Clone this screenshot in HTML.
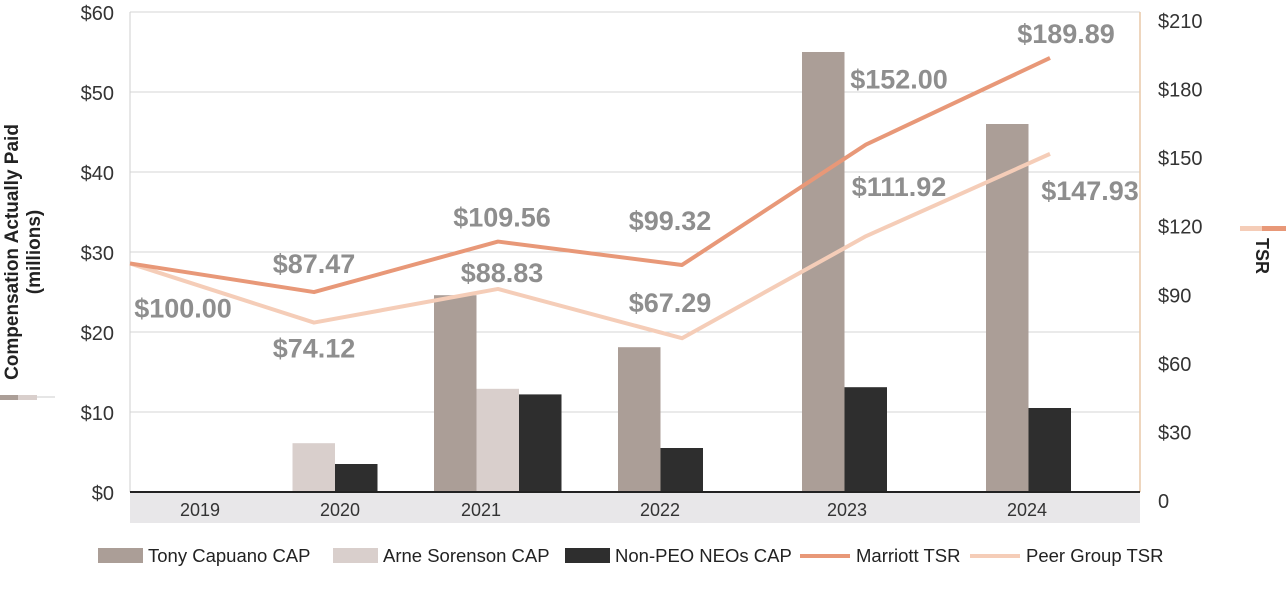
<!DOCTYPE html>
<html><head><meta charset="utf-8"><style>
body{margin:0;background:#fff;font-family:"Liberation Sans",sans-serif;}
svg{display:block}
</style></head><body>
<svg id="chart" width="1286" height="602" xmlns="http://www.w3.org/2000/svg"></svg>
<script>
const categories=["2019","2020","2021","2022","2023","2024"];
const tonyCAP=[0,0,24.6,18.1,55,46];
const arneCAP=[0,6.1,12.9,null,null,null];
const neoCAP=[0,3.5,12.2,5.5,13.1,10.5];
const marriottTSR=[100.00,87.47,109.56,99.32,152.00,189.89];
const peerTSR=[100.00,74.12,88.83,67.29,111.92,147.93];
const marriottLabels=["$100.00","$87.47","$109.56","$99.32","$152.00","$189.89"];
const peerLabels=["","$74.12","$88.83","$67.29","$111.92","$147.93"];
const leftTicks=[0,10,20,30,40,50,60];
const rightTicks=[0,30,60,90,120,150,180,210];

const NS="http://www.w3.org/2000/svg";
const svg=document.getElementById('chart');
const X0=130,X1=1140,Y0=492,Y1=12;
const yL=v=>Y0-(v/60)*(Y0-Y1);
const yR=v=>Y0-(v/210)*(Y0-Y1);
const xC=i=>X0+i*184;
function mk(t,a,p){const e=document.createElementNS(NS,t);for(const k in a)e.setAttribute(k,a[k]);(p||svg).appendChild(e);return e;}

leftTicks.forEach(v=>{
  const g=mk('line',{x1:X0,x2:X1,y1:yL(v),y2:yL(v),stroke:'#d6d6d6','stroke-width':1});
  
  
  const t=mk('text',{x:114,y:yL(v)+8,'text-anchor':'end','font-size':20,fill:'#333'});
  t.textContent='$'+v;
  
  
});
rightTicks.forEach(v=>{
  const t=mk('text',{x:1158,y:yR(v)+16,'font-size':20,fill:'#333'});
  t.textContent=v===0?'0':'$'+v;
  
  
});
const band=mk('rect',{x:X0,y:Y0+1,width:X1-X0,height:30,fill:'#e8e7e9'});


const lx=mk('line',{x1:X0,x2:X0,y1:Y1,y2:Y0,stroke:'#cfcfcf'});


const rx=mk('line',{x1:X1,x2:X1,y1:Y1,y2:Y0,stroke:'#e8c9a8','stroke-width':1.5});



const series=[[tonyCAP,'#ab9e97','tony-bar'],[arneCAP,'#d9cfcc','arne-bar'],[neoCAP,'#2e2e2e','neo-bar']];
const BW=42.5;
categories.forEach((c,i)=>{
  let slot=0;
  series.forEach(([arr,col,nm])=>{
    const v=arr[i];
    if(v===null)return;
    const x=xC(i)-64+slot*BW;slot++;
    if(v>0){
      const r=mk('rect',{x:x,y:yL(v),width:BW,height:yL(0)-yL(v),fill:col});
      
      
    }
  });
});
const base=mk('line',{x1:X0,x2:X1,y1:Y0,y2:Y0,stroke:'#222','stroke-width':2});



const labelX=[200,340,481,660,847,1027];
categories.forEach((c,i)=>{
  const t=mk('text',{x:labelX[i],y:516,'text-anchor':'middle','font-size':18,fill:'#333'});
  t.textContent=c;
  
  
});

function line(arr,col,nm){
  const p=mk('polyline',{points:arr.map((v,i)=>xC(i)+','+yR(v)).join(' '),fill:'none',stroke:col,'stroke-width':4,'stroke-linejoin':'round'});
  
  
}
line(peerTSR,'#f5cdb8','peer-tsr-line');
line(marriottTSR,'#e89878','marriott-tsr-line');

const mOff=[[53,45],[0,-28],[4,-24],[-12,-44],[33,-65],[16,-24]];
const pOff=[[0,0],[0,26],[4,-16],[-12,-35],[33,-49],[40,37]];
function vlab(txt,x,y,nm){
  if(!txt)return;
  const t=mk('text',{x:x,y:y,'text-anchor':'middle','font-size':27,'font-weight':'bold',fill:'#8e8e8e'});
  t.textContent=txt;
  
  
}
marriottTSR.forEach((v,i)=>vlab(marriottLabels[i],xC(i)+mOff[i][0],yR(v)+mOff[i][1]+9,'marriott-value-label'));
peerTSR.forEach((v,i)=>vlab(peerLabels[i],xC(i)+pOff[i][0],yR(v)+pOff[i][1]+9,'peer-value-label'));

const yt=mk('text',{transform:'translate(22,252) rotate(-90)','text-anchor':'middle','font-size':19,'font-weight':'bold',fill:'#222'});


const t1=mk('tspan',{x:0,dy:-4},yt);t1.textContent='Compensation Actually Paid';
const t2=mk('tspan',{x:0,dy:22},yt);t2.textContent='(millions)';
const s1=mk('rect',{x:0,y:395,width:18,height:5,fill:'#ab9e97'});

const s2=mk('rect',{x:18,y:395,width:19,height:5,fill:'#d9cfcc'});

const s3=mk('line',{x1:37,x2:55,y1:397,y2:397,stroke:'#ccc'});

const rt=mk('text',{transform:'translate(1256,256) rotate(90)','text-anchor':'middle','font-size':18,'font-weight':'bold',fill:'#222'});
rt.textContent='TSR';

const r1=mk('rect',{x:1240,y:226,width:22,height:5,fill:'#f5cdb8'});

const r2=mk('rect',{x:1262,y:226,width:24,height:5,fill:'#e89878'});


const leg=[['box','#ab9e97','Tony Capuano CAP',98],['box','#d9cfcc','Arne Sorenson CAP',333],['box','#2e2e2e','Non-PEO NEOs CAP',565],['line','#e89878','Marriott TSR',800],['line','#f5cdb8','Peer Group TSR',970]];
leg.forEach(([k,col,txt,x])=>{
  const g=mk('g',{});
  
  
  if(k==='box')mk('rect',{x:x,y:548,width:45,height:15,fill:col},g);
  else mk('line',{x1:x,x2:x+50,y1:556,y2:556,stroke:col,'stroke-width':4},g);
  const t=mk('text',{x:x+(k==='box'?50:56),y:562,'font-size':18.5,fill:'#222'},g);
  t.textContent=txt;
});
</script>
</body></html>
